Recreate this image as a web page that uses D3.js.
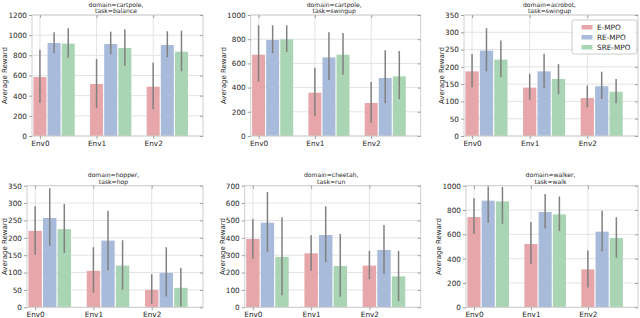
<!DOCTYPE html>
<html>
<head>
<meta charset="utf-8">
<script src="https://cdn.jsdelivr.net/npm/d3@7"></script>
<style>
  body { margin: 0; background: #fff; }
  svg { display: block; font-family: "DejaVu Sans", sans-serif; }
</style>
</head>
<body>
<svg id="chart" width="640" height="318"></svg>
<script>
var envs = ["Env0", "Env1", "Env2"];
var methods = ["E-MPO", "RE-MPO", "SRE-MPO"];
var colors = ["#e6a6aa", "#a8bbda", "#aad5b4"];

var titles = [
  ["domain=cartpole,", "task=balance"],
  ["domain=cartpole,", "task=swingup"],
  ["domain=acrobot,", "task=swingup"],
  ["domain=hopper,", "task=hop"],
  ["domain=cheetah,", "task=run"],
  ["domain=walker,", "task=walk"]
];
var yMax = [1200, 1000, 350, 350, 700, 1000];
var yStep = [200, 200, 50, 50, 100, 200];

// rows = envs, columns = methods
var balanceMean = [[585, 922, 916], [516, 913, 873], [489, 903, 836]];
var balanceLo = [[330, 820, 777], [275, 810, 697], [265, 781, 642]];
var balanceHi = [[855, 1030, 1069], [764, 1035, 1058], [727, 1038, 1045]];

var swingupMean = [[672, 793, 799], [358, 650, 672], [273, 479, 493]];
var swingupLo = [[450, 683, 694], [165, 463, 507], [110, 270, 303]];
var swingupHi = [[915, 915, 915], [565, 857, 851], [446, 708, 702]];

var acrobotMean = [[187, 247, 221], [140, 187, 165], [110, 144, 128]];
var acrobotLo = [[141, 187, 170], [105, 138, 121], [83, 107, 95]];
var acrobotHi = [[237, 312, 276], [180, 238, 208], [146, 186, 165]];

var hopperMean = [[220, 257, 225], [105, 192, 120], [50, 99, 56]];
var hopperLo = [[151, 177, 156], [42, 106, 51], [10, 31, 2]];
var hopperHi = [[291, 343, 297], [173, 278, 193], [95, 173, 113]];

var cheetahMean = [[393, 487, 290], [311, 416, 238], [240, 330, 178]];
var cheetahLo = [[280, 319, 69], [210, 259, 61], [161, 190, 35]];
var cheetahHi = [[508, 664, 518], [415, 582, 422], [326, 474, 324]];

var walkerMean = [[742, 877, 871], [521, 784, 764], [312, 622, 570]];
var walkerLo = [[603, 696, 688], [356, 649, 627], [162, 460, 408]];
var walkerHi = [[896, 995, 989], [701, 932, 912], [468, 795, 740]];

var means = [balanceMean, swingupMean, acrobotMean, hopperMean, cheetahMean, walkerMean];
var los = [balanceLo, swingupLo, acrobotLo, hopperLo, cheetahLo, walkerLo];
var his = [balanceHi, swingupHi, acrobotHi, hopperHi, cheetahHi, walkerHi];

var svg = d3.select("#chart");
var fs = 7.3;
var panelLeft = [32, 250.7, 464, 27, 244.7, 466];
var panelRight = [203, 420.7, 638, 203, 420.7, 638];
var rowTop = [15, 185.7], rowBottom = [136, 307.3];
var offsets = [0, 0.25, 0.5], barW = 0.23;

titles.forEach(function (t, p) {
  var row = Math.floor(p / 3);
  var l = panelLeft[p], r = panelRight[p], top = rowTop[row], bot = rowBottom[row];
  var x = d3.scaleLinear().domain([-0.14, 2.88]).range([l, r]);
  var y = d3.scaleLinear().domain([0, yMax[p]]).range([bot, top]);
  var yt = d3.range(0, yMax[p] + 1, yStep[p]);
  var g = svg.append("g");

  // grid
  g.selectAll(".hg").data(yt).enter().append("line")
    .attr("x1", l).attr("x2", r).attr("y1", function (d) { return y(d); }).attr("y2", function (d) { return y(d); })
    .attr("stroke", "#e3e3e3").attr("stroke-width", 1);
  g.selectAll(".vg").data([0, 1, 2]).enter().append("line")
    .attr("x1", function (d) { return x(d); }).attr("x2", function (d) { return x(d); })
    .attr("y1", top).attr("y2", bot)
    .attr("stroke", "#e3e3e3").attr("stroke-width", 1);

  var clipId = "clip" + p;
  svg.append("clipPath").attr("id", clipId).append("rect")
    .attr("x", l).attr("y", top).attr("width", r - l).attr("height", bot - top);
  var pg = g.append("g").attr("clip-path", "url(#" + clipId + ")");

  var cells = [];
  envs.forEach(function (e, i) {
    methods.forEach(function (m, j) {
      cells.push({ i: i, j: j, v: means[p][i][j], lo: los[p][i][j], hi: his[p][i][j] });
    });
  });

  pg.selectAll("rect.bar").data(cells).enter().append("rect").attr("class", "bar")
    .attr("x", function (d) { return x(d.i + offsets[d.j] - barW / 2); })
    .attr("width", x(barW) - x(0))
    .attr("y", function (d) { return y(d.v); })
    .attr("height", function (d) { return bot - y(d.v); })
    .attr("fill", function (d) { return colors[d.j]; });

  pg.selectAll("line.err").data(cells).enter().append("line").attr("class", "err")
    .attr("x1", function (d) { return x(d.i + offsets[d.j]); })
    .attr("x2", function (d) { return x(d.i + offsets[d.j]); })
    .attr("y1", function (d) { return y(d.lo); })
    .attr("y2", function (d) { return y(d.hi); })
    .attr("stroke", "#808080").attr("stroke-width", 1.5);

  // frame
  g.append("rect").attr("x", l).attr("y", top).attr("width", r - l).attr("height", bot - top)
    .attr("fill", "none").attr("stroke", "#cfcfcf").attr("stroke-width", 1);

  // axes
  var yAxis = g.append("g").attr("transform", "translate(" + l + ",0)")
    .call(d3.axisLeft(y).tickValues(yt).tickSize(3).tickPadding(2).tickFormat(d3.format("d")));
  var yRight = g.append("g").attr("transform", "translate(" + r + ",0)")
    .call(d3.axisLeft(y).tickValues(yt).tickSize(3).tickFormat(""));
  var xAxis = g.append("g").attr("transform", "translate(0," + bot + ")")
    .call(d3.axisBottom(x).tickValues([0, 1, 2]).tickSize(3).tickPadding(2)
      .tickFormat(function (d) { return envs[d]; }));
  var xTop = g.append("g").attr("transform", "translate(0," + top + ")")
    .call(d3.axisBottom(x).tickValues([0, 1, 2]).tickSize(3).tickFormat(""));

  [yAxis, yRight, xAxis, xTop].forEach(function (a) {
    a.select(".domain").remove();
    a.selectAll(".tick line").attr("stroke", "#a0a0a0");
    a.selectAll("text").attr("font-size", fs).attr("fill", "#262626").attr("font-family", "DejaVu Sans");
  });

  var maxW = 0;
  yAxis.selectAll("text").each(function () { maxW = Math.max(maxW, this.getComputedTextLength()); });

  g.append("text").text("Average Reward")
    .attr("transform", "translate(" + (l - 5 - maxW - 3.4) + "," + ((top + bot) / 2) + ") rotate(-90)")
    .attr("text-anchor", "middle").attr("dy", "0.35em")
    .attr("font-size", 7).attr("fill", "#262626");

  // title
  var cx = (l + r) / 2 - 1.5;
  g.append("text").text(t[0]).attr("x", cx).attr("y", top - 8.5)
    .attr("text-anchor", "middle").attr("font-size", 6.1).attr("fill", "#262626");
  g.append("text").text(t[1]).attr("x", cx).attr("y", top - 1.8)
    .attr("text-anchor", "middle").attr("font-size", 6.1).attr("fill", "#262626");

  // legend in the acrobot panel
  if (p === 2) {
    var lg = g.append("g").attr("transform", "translate(" + (r - 66) + "," + (top + 5) + ")");
    lg.append("rect").attr("width", 65).attr("height", 34).attr("rx", 2)
      .attr("fill", "#fff").attr("fill-opacity", 0.85).attr("stroke", "#cccccc");
    methods.forEach(function (m, j) {
      lg.append("rect").attr("x", 9.5).attr("y", 5 + j * 10).attr("width", 11).attr("height", 4.5)
        .attr("fill", colors[j]);
      lg.append("text").text(m).attr("x", 25).attr("y", 7.3 + j * 10).attr("dy", "0.35em")
        .attr("font-size", fs).attr("fill", "#262626");
    });
  }
});
</script>
</body>
</html>
